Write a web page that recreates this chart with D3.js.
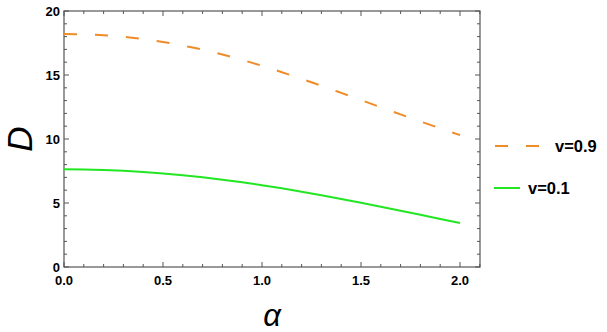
<!DOCTYPE html>
<html>
<head>
<meta charset="utf-8">
<script src="https://cdn.jsdelivr.net/npm/d3@7"></script>
<style>
  body { margin: 0; background: #fff; }
  text { font-family: "Liberation Sans", Arial, sans-serif; }
</style>
</head>
<body>
<script>
var alphaVals = [0, 0.1, 0.2, 0.3, 0.4, 0.5, 0.6, 0.7, 0.8, 0.9, 1.0,
                 1.1, 1.2, 1.3, 1.4, 1.5, 1.6, 1.7, 1.8, 1.9, 2.0];
var dV09 = [18.2, 18.175, 18.1, 17.98, 17.8, 17.58, 17.3, 16.98, 16.6, 16.18, 15.72,
            15.22, 14.7, 14.16, 13.6, 13.04, 12.48, 11.92, 11.37, 10.83, 10.3];
var dV01 = [7.63, 7.62, 7.58, 7.515, 7.425, 7.31, 7.17, 7.005, 6.82, 6.615, 6.39,
            6.145, 5.885, 5.61, 5.32, 5.02, 4.71, 4.395, 4.075, 3.755, 3.44];
var xTicks = [0, 0.5, 1.0, 1.5, 2.0];
var yTicks = [0, 5, 10, 15, 20];
var seriesNames = ["v=0.9", "v=0.1"];

drawChart();

function drawChart(){
  var width = 607, height = 332;
  // plot frame edges (note: "top" is a reserved window global, so use frame*)
  var frameL = 64, frameR = 480, frameT = 11, frameB = 267;

  var svg = d3.select("body").append("svg")
      .attr("width", width)
      .attr("height", height);

  // x: 0 -> 64px, 2 -> 460px
  var x = d3.scaleLinear().domain([0, 2]).range([64, 460]);
  var y = d3.scaleLinear().domain([0, 20]).range([frameB, frameT]);
  var xMax = x.invert(frameR);

  var axisColor = "#555";

  // frame
  svg.append("rect")
      .attr("x", frameL).attr("y", frameT)
      .attr("width", frameR - frameL).attr("height", frameB - frameT)
      .attr("fill", "none").attr("stroke", axisColor).attr("stroke-width", 1.2);

  // ticks on all four sides, pointing inward
  var xMinor = d3.range(0, Math.floor(xMax * 10) + 1).map(function(i){ return i / 10; });
  var yMinor = d3.range(0, 21);
  var g = svg.append("g").attr("stroke", axisColor).attr("stroke-width", 1);
  xMinor.forEach(function(v){
    var len = (Math.round(v * 10) % 5 === 0) ? 5 : 3;
    g.append("line").attr("x1", x(v)).attr("x2", x(v)).attr("y1", frameB).attr("y2", frameB - len);
    g.append("line").attr("x1", x(v)).attr("x2", x(v)).attr("y1", frameT).attr("y2", frameT + len);
  });
  yMinor.forEach(function(v){
    var len = (v % 5 === 0) ? 5 : 3;
    g.append("line").attr("y1", y(v)).attr("y2", y(v)).attr("x1", frameL).attr("x2", frameL + len);
    g.append("line").attr("y1", y(v)).attr("y2", y(v)).attr("x1", frameR).attr("x2", frameR - len);
  });

  // tick labels
  svg.selectAll(".xlab").data(xTicks).enter().append("text")
      .attr("class", "xlab")
      .attr("x", function(d){ return x(d); })
      .attr("y", 285)
      .attr("text-anchor", "middle")
      .attr("font-size", 13).attr("font-weight", "bold")
      .text(function(d){ return d.toFixed(1); });

  svg.selectAll(".ylab").data(yTicks).enter().append("text")
      .attr("class", "ylab")
      .attr("x", 60)
      .attr("y", function(d){ return y(d) + 5; })
      .attr("text-anchor", "end")
      .attr("font-size", 13).attr("font-weight", "bold")
      .text(function(d){ return d; });

  // axis titles
  svg.append("text")
      .attr("transform", "translate(32,139) rotate(-90)")
      .attr("text-anchor", "middle")
      .attr("font-size", 35).attr("font-style", "italic")
      .text("D");

  svg.append("text")
      .attr("x", 272).attr("y", 326)
      .attr("text-anchor", "middle")
      .attr("font-size", 31).attr("font-style", "italic")
      .text("α");

  // curves
  var line = d3.line()
      .x(function(d, i){ return x(alphaVals[i]); })
      .y(function(d){ return y(d); })
      .curve(d3.curveNatural);

  svg.append("path")
      .datum(dV09)
      .attr("d", line)
      .attr("fill", "none")
      .attr("stroke", "#f08c28")
      .attr("stroke-width", 2)
      .attr("stroke-dasharray", "13,18");

  svg.append("path")
      .datum(dV01)
      .attr("d", line)
      .attr("fill", "none")
      .attr("stroke", "#22e622")
      .attr("stroke-width", 2);

  // legend
  var lg = svg.append("g");
  lg.append("line").attr("x1", 495).attr("x2", 539).attr("y1", 146).attr("y2", 146)
      .attr("stroke", "#f08c28").attr("stroke-width", 2).attr("stroke-dasharray", "13,18");
  lg.append("text").attr("x", 555).attr("y", 152)
      .attr("font-size", 16.5).attr("font-weight", "bold").text(seriesNames[0]);
  lg.append("line").attr("x1", 494).attr("x2", 520).attr("y1", 188).attr("y2", 188)
      .attr("stroke", "#22e622").attr("stroke-width", 2);
  lg.append("text").attr("x", 528).attr("y", 194)
      .attr("font-size", 16.5).attr("font-weight", "bold").text(seriesNames[1]);
}
</script>
</body>
</html>
